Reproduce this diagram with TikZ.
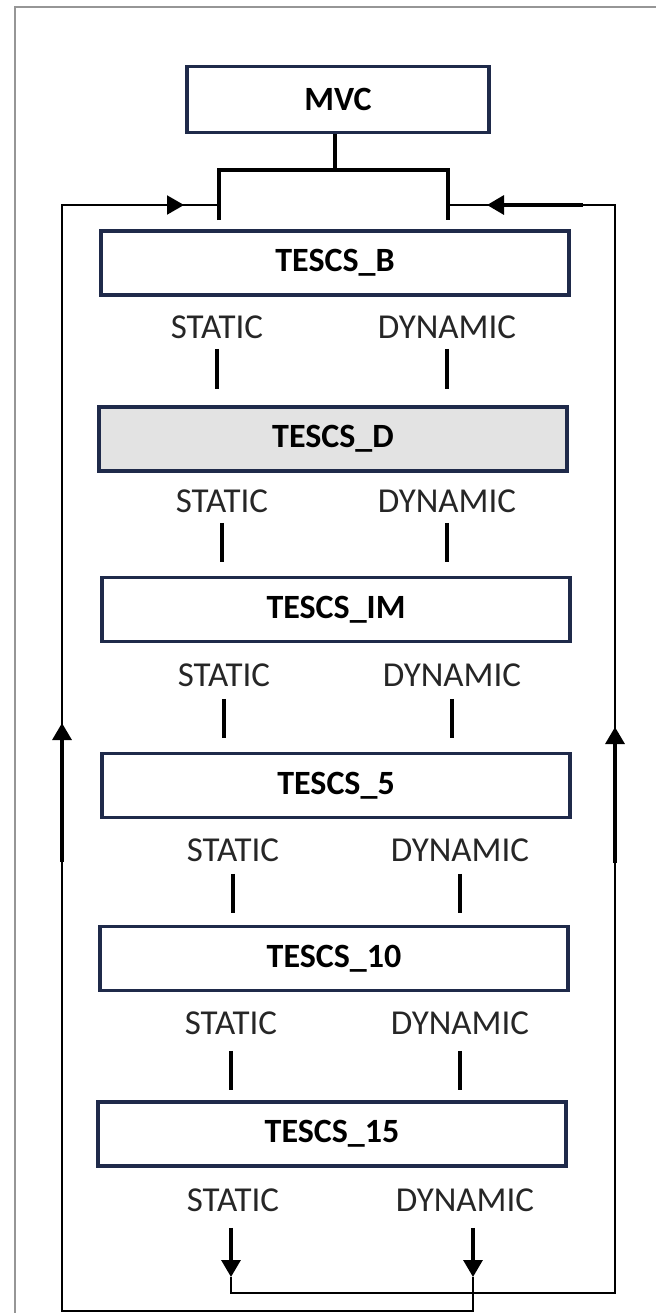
\documentclass[tikz,border=0pt]{standalone}
\usepackage{fontspec}
\setmainfont{Carlito}
\usetikzlibrary{arrows.meta,calc}
\definecolor{navy}{RGB}{31,42,74}
\definecolor{paneD}{RGB}{227,227,227}
\definecolor{framegray}{RGB}{150,150,150}
\definecolor{lbltext}{RGB}{38,38,38}

\begin{document}
\begin{tikzpicture}[
  x=0.5pt,y=-0.5pt,
  font=\fontsize{17.5}{20}\selectfont,
  layer/.style={draw=navy,line width=1.7pt,fill=white,
                minimum width=234pt,minimum height=32pt,inner sep=0pt,
                font=\fontsize{17}{20}\selectfont\bfseries},
  mode/.style={text=lbltext,inner sep=0pt},
  link/.style={line width=1.8pt,black},
  ret/.style={line width=1pt,black},
  ar/.style={-{Triangle[length=8.5pt,width=9.5pt]},line width=1pt,black},
  shaft/.style={-{Triangle[length=8.5pt,width=9.5pt]},line width=1.6pt,black},
  frame/.style={draw=framegray,line width=0.9pt},
]
\useasboundingbox (0,0) rectangle (655,1313);
\draw[frame] (15,1320) |- (660,7);

\node[layer,minimum width=151pt,minimum height=33pt] (mvc) at (338,99.5) {MVC};
\node[layer] (tb) at (335,263) {TESCS\_B};
\node[layer,fill=paneD] (td) at (333,439) {TESCS\_D};
\node[layer] (tim) at (336,609.5) {TESCS\_IM};
\node[layer] (t5) at (336,785.5) {TESCS\_5};
\node[layer] (t10) at (334,958.5) {TESCS\_10};
\node[layer] (t15) at (332,1134) {TESCS\_15};

\node[mode] (sb) at (217,327) {STATIC};
\node[mode] (db) at (447,327) {DYNAMIC};
\node[mode] (sd) at (222,501) {STATIC};
\node[mode] (dd) at (447,501) {DYNAMIC};
\node[mode] (sim) at (224,675) {STATIC};
\node[mode] (dim) at (452,675) {DYNAMIC};
\node[mode] (s5) at (233,850) {STATIC};
\node[mode] (d5) at (460,850) {DYNAMIC};
\node[mode] (s10) at (231,1023) {STATIC};
\node[mode] (d10) at (460,1023) {DYNAMIC};
\node[mode] (s15) at (233,1200) {STATIC};
\node[mode] (d15) at (465,1200) {DYNAMIC};

% MVC feeds both legs of TESCS_B
\coordinate (stem) at (335,170);
\coordinate (forkS) at (219,170);
\coordinate (forkD) at (448,170);
\coordinate (legS) at (219,220);
\coordinate (legD) at (448,220);
\draw[link] (stem |- mvc.south) -- (stem);
\draw[link] (legS) -- (forkS) -- (forkD) -- (legD);

% short links between the layers
\draw[link,shorten <=5pt,shorten >=8pt] (sb.south) -- (sb.south |- td.north);
\draw[link,shorten <=5pt,shorten >=8pt] (db.south) -- (db.south |- td.north);
\draw[link,shorten <=5pt,shorten >=7pt] (sd.south) -- (sd.south |- tim.north);
\draw[link,shorten <=5pt,shorten >=7pt] (dd.south) -- (dd.south |- tim.north);
\draw[link,shorten <=6pt,shorten >=7pt] (sim.south) -- (sim.south |- t5.north);
\draw[link,shorten <=6pt,shorten >=7pt] (dim.south) -- (dim.south |- t5.north);
\draw[link,shorten <=6pt,shorten >=6pt] (s5.south) -- (s5.south |- t10.north);
\draw[link,shorten <=6pt,shorten >=6pt] (d5.south) -- (d5.south |- t10.north);
\draw[link,shorten <=8pt,shorten >=5pt] (s10.south) -- (s10.south |- t15.north);
\draw[link,shorten <=8pt,shorten >=5pt] (d10.south) -- (d10.south |- t15.north);

% outputs of TESCS_15 run back to the top
\coordinate (s15tip) at (231,1277);
\coordinate (d15tip) at (473,1277);
\coordinate (rbot) at (615,1293);
\coordinate (rtop) at (615,205);
\coordinate (lbot) at (62,1311);
\coordinate (ltop) at (62,205);
\coordinate (inS) at (219,205);
\coordinate (inD) at (448,205);
\draw[shaft,shorten <=8pt] (s15tip |- s15.south) -- (s15tip);
\draw[shaft,shorten <=8pt] (d15tip |- d15.south) -- (d15tip);
\draw[ret] (s15tip) |- (rbot) -- (rtop) -- (inD);
\draw[ret] (d15tip) |- (lbot) -- (ltop) -- (inS);

% arrow heads on the return lines
\coordinate (lupfrom) at (62,862);
\coordinate (lup) at (62,723);
\coordinate (rupfrom) at (615,863);
\coordinate (rup) at (615,727);
\coordinate (tlfrom) at (150,205);
\coordinate (tl) at (184,205);
\coordinate (trfrom) at (583,205);
\coordinate (tr) at (487,205);
\draw[shaft] (lupfrom) -- (lup);
\draw[shaft] (rupfrom) -- (rup);
\draw[ar] (tlfrom) -- (tl);
\draw[shaft] (trfrom) -- (tr);
\end{tikzpicture}
\end{document}
